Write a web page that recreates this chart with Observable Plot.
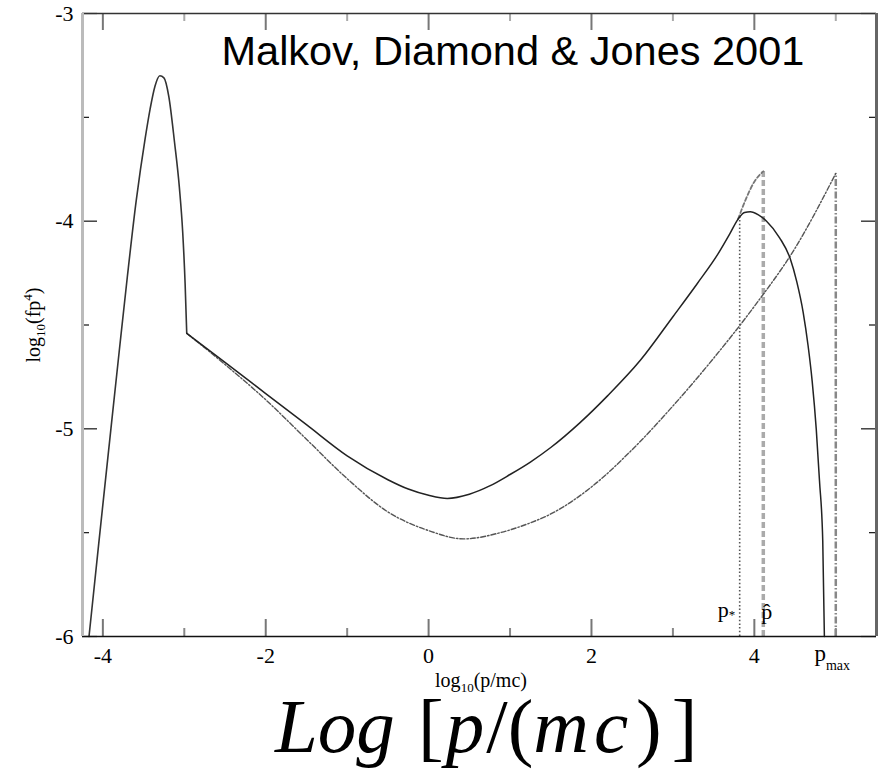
<!DOCTYPE html>
<html><head><meta charset="utf-8">
<script src="https://cdn.jsdelivr.net/npm/d3@7"></script>
<script src="https://cdn.jsdelivr.net/npm/@observablehq/plot@0.6"></script>
<style>
body{margin:0;background:#fff;}
#chart{width:880px;height:770px;}
</style></head><body><div id="chart"></div>
<script>
// ---- data ----
const xDomain = [-4.25, 5.5];
const yDomain = [-6, -3];
const xMajorTicks = [-4, -2, 0, 2, 4];
const xMinorTicks = [-3, -1, 1, 3, 5];
const yMajorTicks = [-6, -5, -4, -3];
const yMinorTicks = [-5.5, -4.5, -3.5];

// thermal (Maxwellian) peak, solid
const maxwellX = [-4.17, -4.05, -3.92, -3.80, -3.70, -3.59, -3.48, -3.42, -3.36, -3.30, -3.25, -3.19, -3.12, -3.06, -3.02, -2.99, -2.97];
const maxwellY = [-6.00, -5.55, -5.07, -4.63, -4.27, -3.90, -3.60, -3.46, -3.35, -3.30, -3.31, -3.40, -3.62, -3.84, -4.05, -4.30, -4.54];

// nonlinear spectrum, solid
const upperX = [-2.97, -2.5, -2.0, -1.5, -1.0, -0.5, -0.25, 0.0, 0.23, 0.5, 0.75, 1.0, 1.25, 1.5, 1.86, 2.2, 2.6, 3.0, 3.3, 3.55, 3.70, 3.80, 3.88, 3.95, 4.05, 4.15, 4.31, 4.44, 4.52, 4.60, 4.66, 4.71, 4.76, 4.80, 4.84, 4.86];
const upperY = [-4.54, -4.68, -4.83, -4.98, -5.13, -5.245, -5.29, -5.32, -5.335, -5.315, -5.275, -5.22, -5.16, -5.09, -4.97, -4.84, -4.67, -4.46, -4.30, -4.16, -4.06, -3.99, -3.958, -3.955, -3.97, -4.00, -4.08, -4.18, -4.29, -4.44, -4.60, -4.77, -5.00, -5.25, -5.54, -6.00];

// spectrum without cutoff, dash-dot
const lowerX = [-2.97, -2.5, -2.0, -1.5, -1.0, -0.5, 0.0, 0.43, 0.88, 1.2, 1.5, 2.0, 2.5, 3.0, 3.5, 4.0, 4.5, 5.0];
const lowerY = [-4.54, -4.69, -4.86, -5.05, -5.24, -5.40, -5.49, -5.53, -5.50, -5.46, -5.41, -5.28, -5.10, -4.89, -4.66, -4.41, -4.13, -3.77];

// dashed continuation above p*
const extX = [3.80, 3.90, 4.00, 4.11];
const extY = [-3.99, -3.89, -3.81, -3.76];

// characteristic momenta
const pStar = 3.82, pHat = 4.11, pMax = 5.0;
const pStarTop = -3.97, pHatTop = -3.76, pMaxTop = -3.77;

const titleText = "Malkov, Diamond & Jones 2001";

// ---- build ----
const toRows = (xs, ys) => xs.map((x, i) => ({x, y: ys[i]}));
const maxwell = toRows(maxwellX, maxwellY);
const upper = toRows(upperX, upperY);
const lower = toRows(lowerX, lowerY);
const ext = toRows(extX, extY);

const W = 880, H = 770, ML = 82, MR = 4, MT = 13, MB = 134;
const PW = W - ML - MR, PH = H - MT - MB;
const serif = '"Liberation Serif", "Times New Roman", serif';

const plot = Plot.plot({
  width: W, height: H,
  marginLeft: ML, marginRight: MR, marginTop: MT, marginBottom: MB,
  style: {fontFamily: serif, fontSize: "22px", background: "white", color: "black", overflow: "visible"},
  x: {domain: xDomain},
  y: {domain: yDomain},
  marks: [
    // vertical markers
    Plot.ruleX([pStar], {y1: yDomain[0], y2: pStarTop, stroke: "#555", strokeWidth: 1.6, strokeDasharray: "1.5,2.2"}),
    Plot.ruleX([pHat], {y1: yDomain[0], y2: pHatTop, stroke: "#aaa", strokeWidth: 3.5, strokeDasharray: "6,3"}),
    Plot.ruleX([pMax], {y1: yDomain[0], y2: pMaxTop, stroke: "#888", strokeWidth: 2.5, strokeDasharray: "7,2,1.5,2"}),
    // curves
    Plot.line(lower, {x: "x", y: "y", curve: "monotone-x", stroke: "#555", strokeWidth: 1.4, strokeDasharray: "5,2,1.5,2"}),
    Plot.line(ext, {x: "x", y: "y", curve: "monotone-x", stroke: "#777", strokeWidth: 1.8, strokeDasharray: "4,2.5"}),
    Plot.line(maxwell, {x: "x", y: "y", curve: "monotone-x", stroke: "#333", strokeWidth: 1.6}),
    Plot.line(upper, {x: "x", y: "y", curve: "monotone-x", stroke: "#222", strokeWidth: 1.5}),
    // inward ticks
    Plot.tickX(xMajorTicks, {x: d => d, insetTop: PH - 17, stroke: "#777", strokeWidth: 2}),
    Plot.tickX(xMinorTicks, {x: d => d, insetTop: PH - 8, stroke: "#888", strokeWidth: 2}),
    Plot.tickX(xMajorTicks, {x: d => d, insetBottom: PH - 17, stroke: "#777", strokeWidth: 2}),
    Plot.tickX(xMinorTicks, {x: d => d, insetBottom: PH - 8, stroke: "#aaa", strokeWidth: 2}),
    Plot.tickY(yMajorTicks, {y: d => d, insetRight: PW - 15, stroke: "#111", strokeWidth: 1.2}),
    Plot.tickY(yMinorTicks, {y: d => d, insetRight: PW - 7, stroke: "#111", strokeWidth: 1.2}),
    Plot.tickY(yMajorTicks, {y: d => d, insetLeft: PW - 15, stroke: "#111", strokeWidth: 1.2}),
    Plot.tickY(yMinorTicks, {y: d => d, insetLeft: PW - 7, stroke: "#111", strokeWidth: 1.2}),
    // frame
    Plot.ruleY([yDomain[0]], {stroke: "#111", strokeWidth: 1.6}),
    Plot.ruleY([yDomain[1]], {stroke: "#333", strokeWidth: 1.6}),
    Plot.ruleX([xDomain[0]], {stroke: "#bbb", strokeWidth: 3}),
    Plot.ruleX([xDomain[1]], {stroke: "#666", strokeWidth: 3}),
    // axes (labels only)
    Plot.axisX({ticks: xMajorTicks, anchor: "bottom", tickSize: 0, tickPadding: 11, fontSize: 22, tickFormat: d => String(d), label: null}),
    Plot.axisY({ticks: yMajorTicks, anchor: "left", tickSize: 0, tickPadding: 9, fontSize: 22, tickFormat: d => String(d), label: null}),
    // title
    Plot.text([titleText], {text: d => d, frameAnchor: "top-left", textAnchor: "start", lineAnchor: "top", dx: 139, dy: 22, fontSize: 41.5, fontFamily: '"Liberation Sans", Arial, sans-serif', fill: "black"})
  ]
});
document.getElementById("chart").appendChild(plot);

const sx = plot.scale("x").apply;
const svg = d3.select(plot);

// y axis label
const yl = svg.append("text")
  .attr("transform", `translate(${40},${325}) rotate(-90)`)
  .attr("text-anchor", "middle").attr("font-family", serif).attr("font-size", 20).attr("fill", "black");
yl.append("tspan").text("log");
yl.append("tspan").attr("font-size", 13).attr("dy", 5).text("10");
yl.append("tspan").attr("dy", -5).text("(fp");
yl.append("tspan").attr("font-size", 13).attr("dy", -8).text("4");
yl.append("tspan").attr("dy", 8).text(")");

// x axis label
const xl = svg.append("text")
  .attr("x", 481).attr("y", 687)
  .attr("text-anchor", "middle").attr("font-family", serif).attr("font-size", 20).attr("fill", "black");
xl.append("tspan").text("log");
xl.append("tspan").attr("font-size", 13).attr("dy", 5).text("10");
xl.append("tspan").attr("dy", -5).text("(p/mc)");

// p_max tick label
const pm = svg.append("text").attr("x", sx(pMax) - 3).attr("y", 661)
  .attr("font-family", serif).attr("font-size", 23).attr("fill", "black");
pm.append("tspan").text("p");
pm.append("tspan").attr("font-size", 14).attr("dy", 9).text("max");

// p* label
const ps = svg.append("text").attr("x", sx(pStar) - 4).attr("y", 617)
  .attr("text-anchor", "end").attr("font-family", serif).attr("font-size", 22).attr("fill", "black");
ps.append("tspan").text("p");
ps.append("tspan").attr("font-size", 13).attr("dy", 2).attr("fill", "black").text("*");

// p-hat label
svg.append("text").attr("x", sx(pHat) + 4).attr("y", 619)
  .attr("font-family", serif).attr("font-size", 22).attr("fill", "black").text("p\u0302");

// big label below
const bl = svg.append("text").attr("x", 275).attr("y", 752)
  .attr("text-anchor", "start").attr("font-family", serif).attr("font-size", 77).attr("fill", "black");
bl.append("tspan").attr("font-style", "italic").text("Log");
bl.append("tspan").attr("dx", 4).text(" [");
bl.append("tspan").attr("dx", 2).attr("font-style", "italic").text("p");
bl.append("tspan").attr("dx", 2).text("/(");
bl.append("tspan").attr("font-style", "italic").text("m");
bl.append("tspan").attr("dx", 5).attr("font-style", "italic").text("c");
bl.append("tspan").attr("dx", 8).text(")");
bl.append("tspan").attr("dx", 10).text("]");
</script></body></html>
